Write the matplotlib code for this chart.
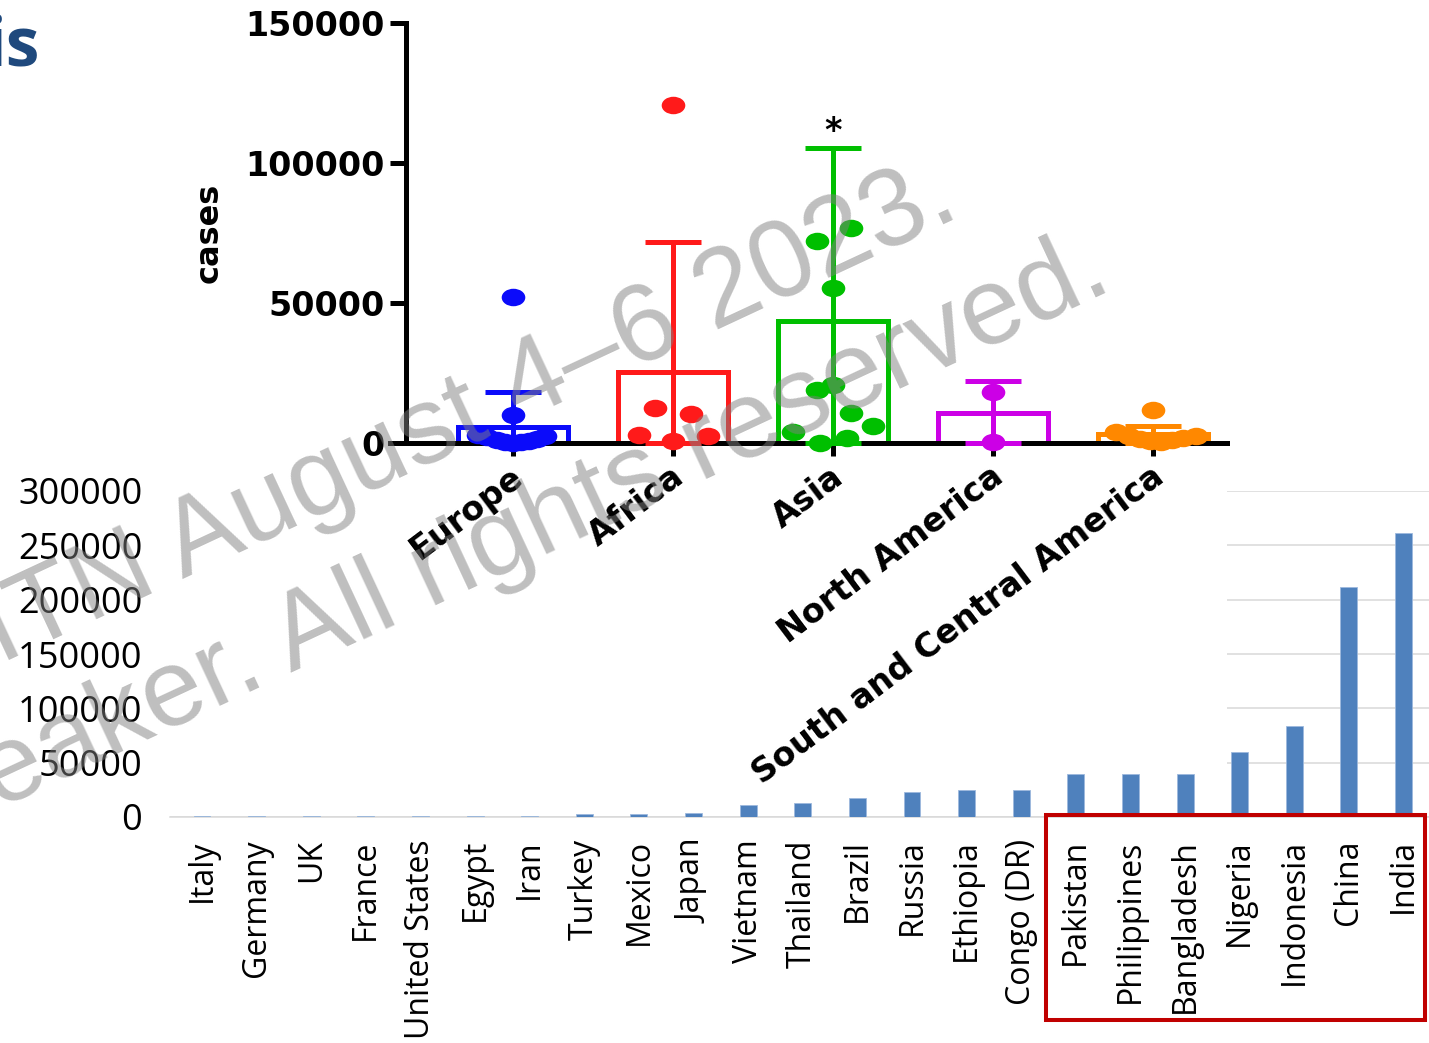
import numpy as np
import matplotlib
matplotlib.use("Agg")
import matplotlib.pyplot as plt
import matplotlib.transforms as mtransforms
from matplotlib.path import Path
from matplotlib.patches import Rectangle

# ---------------- data: top chart (cases by region) ----------------
regions = ["Europe", "Africa", "Asia", "North America", "South and Central America"]
region_colors = ["#0B0BFA", "#FF1A1A", "#00BF00", "#CC00E6", "#FF8800"]
region_means = [5700, 25400, 43600, 10700, 3300]
region_err_top = [18200, 71800, 105400, 22100, 6200]

europe_pts = [52000, 10000, 3000, 2000, 1000, 500, 0, 300, 800, 1500, 2500]
africa_pts = [120700, 12500, 10400, 2900, 700, 2500]
asia_pts = [72100, 76800, 55400, 18900, 20700, 10700, 3900, 6100, 0, 1800]
namerica_pts = [18200, 400]
scamerica_pts = [11800, 3900, 2600, 1500, 800, 300, 1000, 1800, 2400]

# swarm layout offsets (category units), separate from the data
europe_off = [0, 0, -0.22, -0.16, -0.10, -0.05, 0, 0.05, 0.10, 0.15, 0.20]
africa_off = [0, -0.11, 0.11, -0.21, 0, 0.22]
asia_off = [-0.10, 0.11, 0, -0.10, 0, 0.11, -0.25, 0.25, -0.08, 0.09]
namerica_off = [0, 0]
scamerica_off = [0, -0.23, -0.15, -0.08, -0.02, 0.05, 0.12, 0.19, 0.27]

top_yticks = [0, 50000, 100000, 150000]

# ---------------- data: bottom chart (cases by country) ----------------
countries = ["Italy", "Germany", "UK", "France", "United States", "Egypt", "Iran",
             "Turkey", "Mexico", "Japan", "Vietnam", "Thailand", "Brazil", "Russia",
             "Ethiopia", "Congo (DR)", "Pakistan", "Philippines", "Bangladesh",
             "Nigeria", "Indonesia", "China", "India"]
country_cases = [1300, 1300, 1300, 1300, 1300, 1300, 1300,
                 2800, 2500, 3700, 11000, 12900, 17500, 23000,
                 24500, 24500, 39600, 39600, 39600,
                 59800, 84000, 211800, 261800]
bottom_yticks = [0, 50000, 100000, 150000, 200000, 250000, 300000]

# ---------------- figure ----------------
W, H = 1429, 1043
DPI = 100
fig = plt.figure(figsize=(W / DPI, H / DPI), dpi=DPI)
fig.patch.set_facecolor("white")


def px_axes(x0, y0, x1, y1, **kw):
    return fig.add_axes([x0 / W, 1 - y1 / H, (x1 - x0) / W, (y1 - y0) / H], **kw)


def fx(x):
    return x / W


def fy(y):
    return 1 - y / H


# ---- bottom chart ----
axb = px_axes(170, 491, 1429, 817)
axb.set_zorder(0)
xb = np.arange(len(countries))
axb.bar(xb, country_cases, width=0.31, color="#4F81BD", edgecolor="#9DB9DD",
        linewidth=0.6, zorder=3)
axb.set_xlim(-0.586, len(countries) - 1 + 0.467)
axb.set_ylim(0, 300000)
axb.set_yticks(bottom_yticks)
axb.set_yticklabels([str(v) for v in bottom_yticks], fontfamily="Open Sans", fontsize=26)
axb.set_xticks(xb)
axb.set_xticklabels(countries, rotation=90, fontfamily="Open Sans", fontsize=23,
                    va="top", ha="center")
axb.tick_params(axis="both", length=0)
axb.tick_params(axis="y", pad=20)
axb.tick_params(axis="x", pad=16)
axb.yaxis.grid(True, color="#D9D9D9", linewidth=1.1)
axb.set_axisbelow(True)
for s in ["left", "right", "top"]:
    axb.spines[s].set_visible(False)
axb.spines["bottom"].set_color("#D9D9D9")
axb.spines["bottom"].set_linewidth(1.1)
axb.patch.set_alpha(0)

# red highlight box
fig.patches.append(Rectangle((fx(1046), fy(1020)), (1425 - 1046) / W, (1020 - 815) / H,
                             transform=fig.transFigure, fill=False,
                             edgecolor="#C00000", linewidth=2.9, zorder=5))

# white overlay of the pasted top chart
fig.patches.append(Rectangle((fx(150), fy(768)), (1227 - 150) / W, 768 / H,
                             transform=fig.transFigure, facecolor="white",
                             edgecolor="none", zorder=0.5))

# ---- top chart ----
axt = px_axes(390, 23, 1227, 443)
axt.set_zorder(1)
axt.patch.set_alpha(0)
xt = np.arange(len(regions))
axt.set_xlim(-0.76875, 4.4625)
axt.set_ylim(0, 150000)

lw = 3.6
axt.bar(xt, region_means, width=0.69, fill=False, edgecolor=region_colors,
        linewidth=lw, zorder=1)
for i in range(len(regions)):
    eb = axt.errorbar([xt[i]], [region_means[i]],
                      yerr=[[region_means[i]], [region_err_top[i] - region_means[i]]],
                      fmt="none", ecolor=region_colors[i], elinewidth=lw,
                      capsize=20, capthick=lw, zorder=3)
    for art in eb.lines[1] + eb.lines[2]:
        art.set_clip_on(False)

circ = Path.unit_circle()
ell = Path(circ.vertices * np.array([1.35, 1.0]), circ.codes)
pts = [europe_pts, africa_pts, asia_pts, namerica_pts, scamerica_pts]
offs = [europe_off, africa_off, asia_off, namerica_off, scamerica_off]
for i in range(len(regions)):
    axt.plot(xt[i] + np.array(offs[i]), pts[i], linestyle="none", marker=ell,
             markersize=17, color=region_colors[i], markeredgewidth=0,
             zorder=4, clip_on=False)

axt.text(2, 108000, "*", ha="center", va="baseline", fontsize=24,
         fontweight="bold", family="DejaVu Sans", zorder=5)

for s in ["right", "top"]:
    axt.spines[s].set_visible(False)
for s in ["left", "bottom"]:
    axt.spines[s].set_linewidth(lw)
    axt.spines[s].set_zorder(2.5)
axt.spines["left"].set_position(("outward", -11.52))
axt.set_yticks(top_yticks)
axt.set_yticklabels([str(v) for v in top_yticks], fontfamily="DejaVu Sans",
                    fontweight="bold", fontsize=24)
axt.tick_params(axis="y", direction="out", length=11.5, width=lw, pad=4)
axt.set_xticks(xt)
axt.set_xticklabels([])
axt.tick_params(axis="x", direction="out", length=9, width=lw)

base = mtransforms.blended_transform_factory(axt.transData, axt.transAxes)
lab_tr = mtransforms.offset_copy(base, fig=fig, x=-3 / DPI, y=-17 / DPI, units="inches")
for i, name in enumerate(regions):
    axt.text(xt[i], 0, name, transform=lab_tr, rotation=37, rotation_mode="anchor",
             ha="right", va="top", fontsize=24, fontweight="bold",
             family="DejaVu Sans", clip_on=False)

fig.text(fx(209), fy(233), "cases", rotation=90, ha="center", va="center",
         fontsize=23, fontweight="bold", family="DejaVu Sans")

# title fragment
fig.text(fx(40), fy(65), "is", ha="right", va="baseline", fontsize=49,
         fontweight="bold", family="Open Sans", color="#1F497D")

# watermark
wm = dict(rotation=25, rotation_mode="anchor", ha="right", va="baseline",
          fontsize=79, family="Liberation Sans", color="#808080", alpha=0.5, zorder=10)
fig.text(fx(962), fy(216), "ITN August 4\u20136 2023.", **wm)
fig.text(fx(1115), fy(289), "Speaker. All rights reserved.", **wm)

fig.savefig("out.png", dpi=DPI, facecolor="white")
